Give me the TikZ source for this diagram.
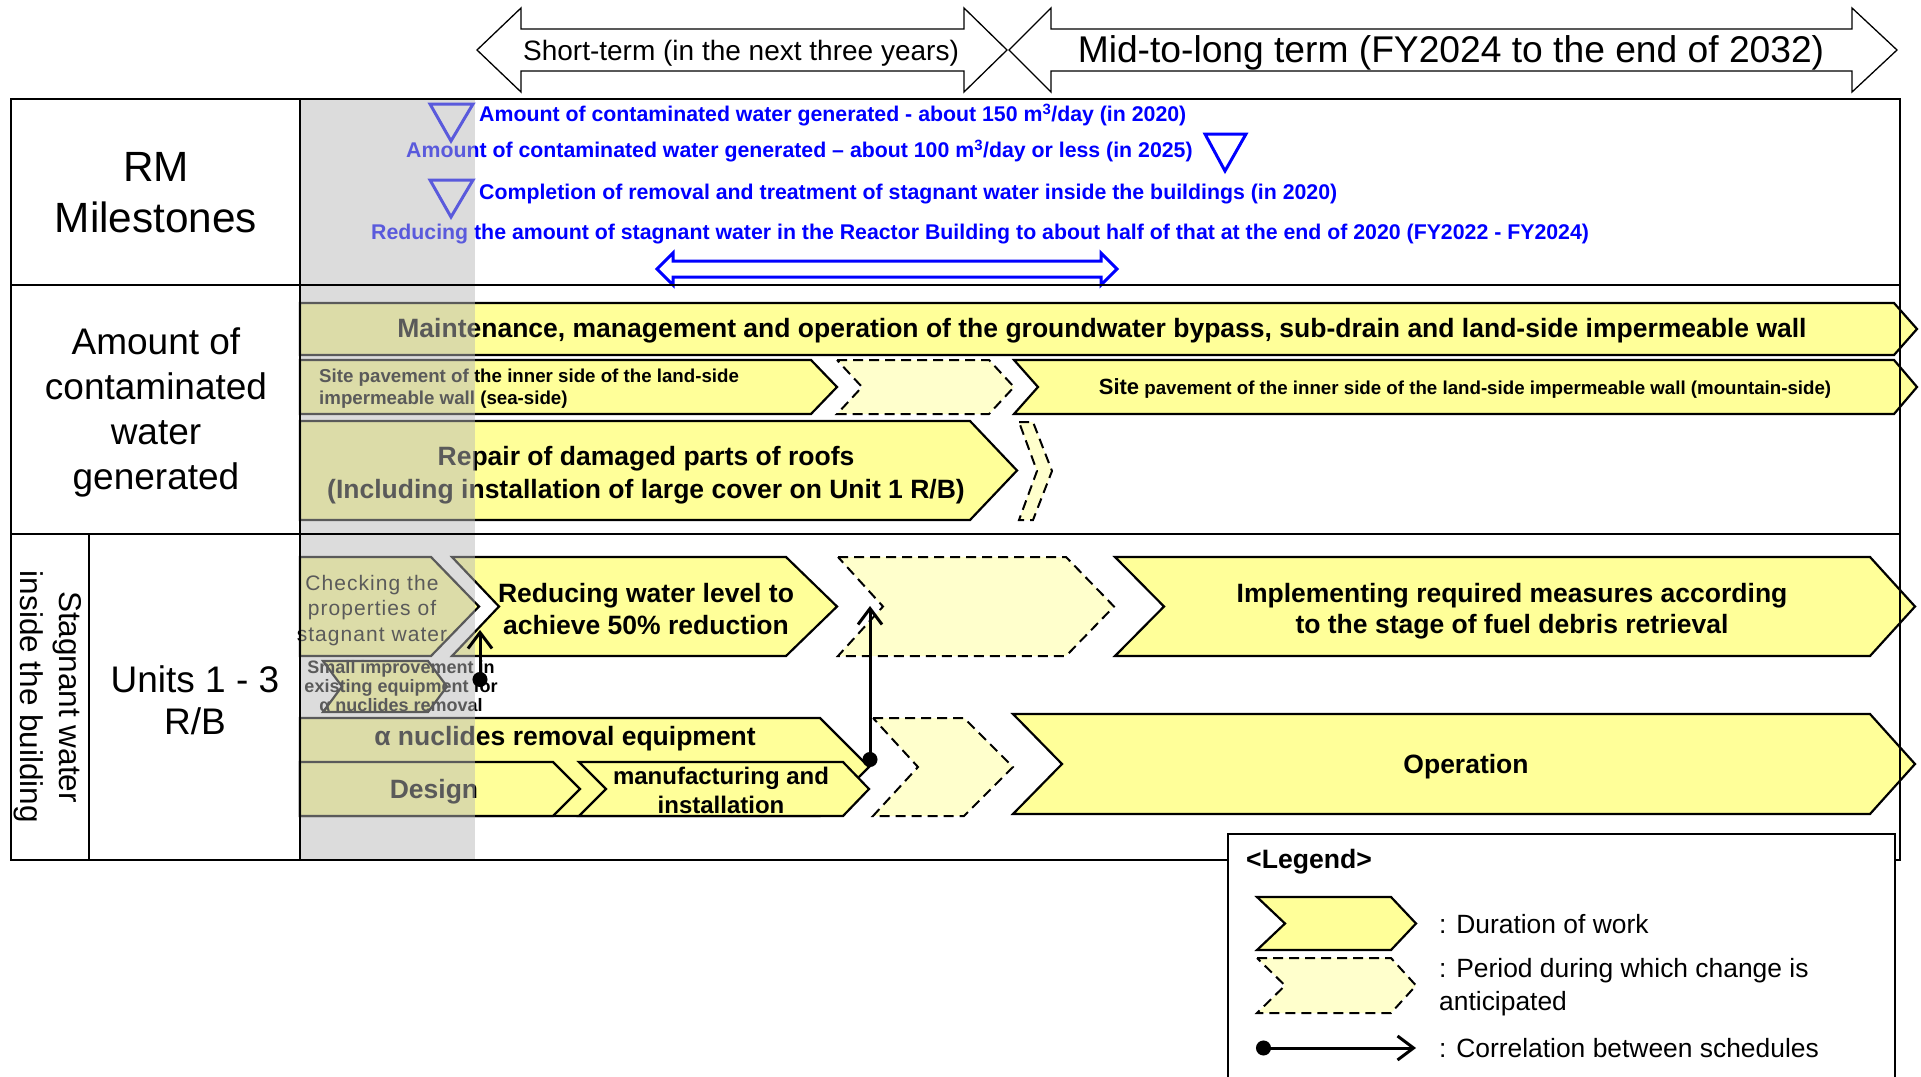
\documentclass[tikz,border=0pt]{standalone}
\usepackage{fontspec}
\setmainfont{Liberation Sans}
\usetikzlibrary{arrows.meta}

\definecolor{workyellow}{HTML}{FFFF99}
\definecolor{changeyellow}{HTML}{FFFFCC}
\definecolor{mblue}{HTML}{0000FF}
\definecolor{veil}{HTML}{B8B8B8}

% chevron: [style]{left}{notch}{base}{tip}{top}{bottom}
\newcommand{\chev}[7][work]{%
  \filldraw[#1] (#2,#6) -- (#4,#6) -- (#5,{(#6+#7)/2}) -- (#4,#7) -- (#2,#7) -- (#3,{(#6+#7)/2}) -- cycle;}

\tikzset{
  work/.style={draw=black,fill=workyellow,line width=2.2pt,line join=miter},
  change/.style={draw=black,fill=changeyellow,line width=2pt,dash pattern=on 10pt off 6pt},
  termarrow/.style={draw=black,fill=white,line width=1.3pt},
  milestone/.style={draw=mblue,fill=white,line width=3pt,line join=miter},
  grid/.style={draw=black,line width=2.5pt},
  link/.style={line width=3pt,{Circle[length=15pt]}-{Straight Barb[length=16pt,width=24pt]}},
  bluetxt/.style={anchor=west,inner sep=0,text=mblue,font=\fontsize{21.3}{25}\selectfont\bfseries},
  bartxt/.style={inner sep=0,align=center,font=\fontsize{26.5}{32}\selectfont\bfseries},
  rowtxt/.style={inner sep=0,align=center},
  keytxt/.style={anchor=west,inner sep=0,align=left,font=\fontsize{26.4}{33}\selectfont}
}

\begin{document}
\begin{tikzpicture}[x=1pt,y=-1pt]
  \useasboundingbox (0,0) rectangle (1921,1076);

  % period arrows on top
  \filldraw[termarrow] (477,50) -- (521,8) -- (521,29) -- (964,29) -- (964,8) -- (1007,50)
    -- (964,92) -- (964,71) -- (521,71) -- (521,92) -- cycle;
  \filldraw[termarrow] (1009,50) -- (1051,8) -- (1051,29) -- (1852,29) -- (1852,8) -- (1897,50)
    -- (1852,92) -- (1852,71) -- (1051,71) -- (1051,92) -- cycle;
  \node[rowtxt,font=\fontsize{28}{32}\selectfont] (short) at (741,53.5) {Short-term (in the next three years)};
  \node[rowtxt,font=\fontsize{37.2}{40}\selectfont] (midlong) at (1451,53) {Mid-to-long term (FY2024 to the end of 2032)};

  % row headers
  \node[rowtxt,font=\fontsize{42.3}{51}\selectfont] (rm) at (156,193) {RM\\Milestones};
  \node[rowtxt,font=\fontsize{37}{45}\selectfont] (amount) at (156,412) {Amount of\\contaminated\\water\\generated};
  \node[rowtxt,font=\fontsize{37}{42}\selectfont] (units) at (195,700) {Units 1 - 3\\R/B};
  \node[rowtxt,font=\fontsize{31.5}{39}\selectfont,rotate=-90] (stagnant) at (48,697) {Stagnant water\\inside the building};

  % RM milestones
  \filldraw[milestone] (430,104) -- (473,104) -- (451,141) -- cycle;
  \node[bluetxt] (ms1) at (479,115) {Amount of contaminated water generated - about 150 m\textsuperscript{3}/day (in 2020)};
  \node[bluetxt] (ms2) at (406,151) {Amount of contaminated water generated -- about 100 m\textsuperscript{3}/day or less (in 2025)};
  \filldraw[milestone] (1205,134) -- (1246,134) -- (1225,171) -- cycle;
  \filldraw[milestone] (430,180) -- (473,180) -- (451,217) -- cycle;
  \node[bluetxt] (ms3) at (479,194) {Completion of removal and treatment of stagnant water inside the buildings (in 2020)};
  \node[bluetxt] (ms4) at (371,234) {Reducing the amount of stagnant water in the Reactor Building to about half of that at the end of 2020 (FY2022 - FY2024)};
  \filldraw[milestone] (657,269) -- (673,253) -- (673,261) -- (1101,261) -- (1101,253) -- (1117,269)
    -- (1101,285) -- (1101,277) -- (673,277) -- (673,285) -- cycle;

  % contaminated water generated
  \chev{300}{300}{1894}{1917}{303}{355}
  \node[bartxt,font=\fontsize{26.5}{30}\selectfont\bfseries] (maint) at (1102,330.5)
    {Maintenance, management and operation of the groundwater bypass, sub-drain and land-side impermeable wall};
  \chev{300}{300}{811}{837}{360}{414}
  \node[anchor=west,inner sep=0,align=left,font=\fontsize{18.7}{22}\selectfont\bfseries] (seaside) at (319,389)
    {Site pavement of the inner side of the land-side\\impermeable wall (sea-side)};
  \chev[change]{837}{862}{989}{1014}{360}{414}
  \chev{1014}{1038}{1894}{1917}{360}{414}
  \node[rowtxt,font=\fontsize{18.7}{22}\selectfont\bfseries] (mountain) at (1465,388)
    {{\fontsize{22}{22}\selectfont Site} pavement of the inner side of the land-side impermeable wall (mountain-side)};
  \chev{300}{300}{970}{1017}{421}{520}
  \node[bartxt,font=\fontsize{26.5}{33}\selectfont\bfseries] (roofs) at (646,475.5)
    {Repair of damaged parts of roofs\\(Including installation of large cover on Unit 1 R/B)};
  \chev[change]{1019}{1037}{1033}{1052}{422}{520}

  % stagnant water inside the building
  \chev{300}{300}{431}{479}{557}{656}
  \node[rowtxt,font=\fontsize{21}{25.5}\selectfont\addfontfeatures{LetterSpace=5}] (check) at (372,610.5)
    {Checking the\\properties of\\stagnant water};
  \chev{452}{499}{786}{837}{557}{656}
  \node[bartxt] (level) at (646,609) {Reducing water level to\\achieve 50\% reduction};
  \chev[change]{838}{883}{1066}{1114}{557}{656}
  \chev{1115}{1164}{1870}{1915}{557}{656}
  \node[bartxt,font=\fontsize{26.5}{31}\selectfont\bfseries] (measures) at (1512,611.5)
    {Implementing required measures according\\to the stage of fuel debris retrieval};
  \chev{323}{342}{428}{447}{661}{712}
  \node[rowtxt,font=\fontsize{18}{19}\selectfont\bfseries] (small) at (401,686)
    {Small improvement in\\existing equipment for\\α nuclides removal};
  \chev{300}{300}{820}{869}{718}{816}
  \node[bartxt] (alpha) at (565,738.5) {α nuclides removal equipment};
  \chev{300}{300}{553}{580}{762}{816}
  \node[bartxt] (design) at (434,791.5) {Design};
  \chev{579}{606}{843}{869}{762}{816}
  \node[bartxt,font=\fontsize{24}{29}\selectfont\bfseries] (install) at (721,790) {manufacturing and\\installation};
  \chev[change]{873}{918}{964}{1013}{718}{816}
  \chev{1013}{1062}{1870}{1915}{714}{814}
  \node[bartxt] (operation) at (1466,766.5) {Operation};

  % short-term shading
  \fill[veil,opacity=0.49] (300,100) rectangle (475,859);

  % table lines
  \draw[grid] (11,99) rectangle (1900,860);
  \draw[grid] (300,99) -- (300,860);
  \draw[grid] (11,285) -- (1900,285);
  \draw[grid] (11,534) -- (1900,534);
  \draw[grid] (89,534) -- (89,860);

  % correlations
  \coordinate (link1s) at (480,687);
  \coordinate (link1e) at (480,630);
  \coordinate (link2s) at (870,767);
  \coordinate (link2e) at (870,606);
  \draw[link] (link1s) -- (link1e);
  \draw[link] (link2s) -- (link2e);

  % legend
  \filldraw[draw=black,fill=white,line width=2pt] (1228,1080) -- (1228,834) -- (1895,834) -- (1895,1080);
  \node[anchor=west,inner sep=0,font=\fontsize{26.6}{30}\selectfont\bfseries] (legend) at (1246,862) {<Legend>};
  \chev{1257}{1285}{1391}{1416}{897}{950}
  \node[keytxt] (keywork) at (1439,924) {: Duration of work};
  \chev[change]{1257}{1285}{1391}{1416}{958}{1013}
  \node[keytxt] (keychange) at (1439,987) {: Period during which change is\\anticipated};
  \coordinate (keylinks) at (1256,1048);
  \coordinate (keylinke) at (1416,1048);
  \draw[link] (keylinks) -- (keylinke);
  \node[keytxt] (keylink) at (1439,1048) {: Correlation between schedules};
\end{tikzpicture}
\end{document}
